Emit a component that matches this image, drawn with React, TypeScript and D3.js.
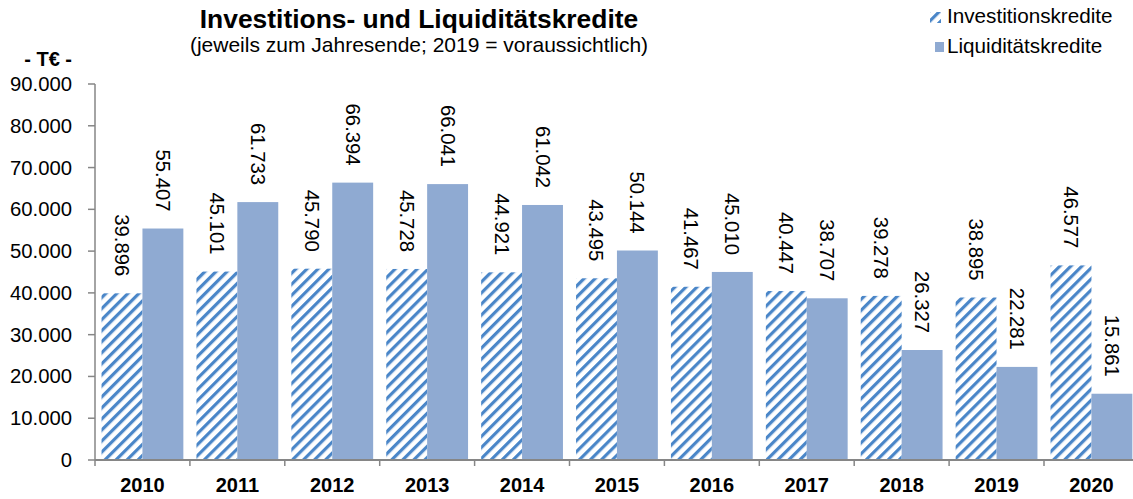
import React, { useEffect, useRef } from "react";
import * as d3 from "d3";

const years = ["2010", "2011", "2012", "2013", "2014", "2015", "2016", "2017", "2018", "2019", "2020"];
const investitionskredite = [39896, 45101, 45790, 45728, 44921, 43495, 41467, 40447, 39278, 38895, 46577];
const liquiditaetskredite = [55407, 61733, 66394, 66041, 61042, 50144, 45010, 38707, 26327, 22281, 15861];
const yTicks = [0, 10000, 20000, 30000, 40000, 50000, 60000, 70000, 80000, 90000];
const seriesNames = ["Investitionskredite", "Liquiditätskredite"];

const W = 1133;
const H = 499;
const FONT = "'Liberation Sans', Arial, sans-serif";
const hatchBlue = "#4a86c8";
const solidBlue = "#8faad2";
const axisGrey = "#868686";

const fmt = (v: number) => d3.format(",")(v).replace(/,/g, ".");

export default function App() {
  const ref = useRef<SVGSVGElement>(null);

  useEffect(() => {
    document.body.style.margin = "0";
    const svg = d3.select(ref.current);
    svg.selectAll("*").remove();

    // stripe pattern for the hatched series
    const defs = svg.append("defs");
    const pat = defs.append("pattern")
      .attr("id", "hatch")
      .attr("patternUnits", "userSpaceOnUse")
      .attr("width", 7.8)
      .attr("height", 7.8)
      .attr("patternTransform", "rotate(45)");
    pat.append("rect").attr("width", 7.8).attr("height", 7.8).attr("fill", "#fff");
    pat.append("rect").attr("width", 3.2).attr("height", 7.8).attr("fill", hatchBlue);

    const x = d3.scaleBand().domain(years).range([95, 95 + 11 * 94.9]).padding(0);
    const xs = d3.scaleBand().domain(["inv", "liq"]).range([0, x.bandwidth()]).paddingInner(0).paddingOuter(0.16);
    const y = d3.scaleLinear().domain([0, 90000]).range([460, 84]);

    // bars
    const g = svg.append("g");
    years.forEach(function (yr, i) {
      const x0 = x(yr) as number;
      g.append("rect")
        .attr("x", x0 + (xs("inv") as number))
        .attr("y", y(investitionskredite[i]))
        .attr("width", xs.bandwidth())
        .attr("height", y(0) - y(investitionskredite[i]))
        .attr("fill", "url(#hatch)");
      g.append("rect")
        .attr("x", x0 + (xs("liq") as number))
        .attr("y", y(liquiditaetskredite[i]))
        .attr("width", xs.bandwidth())
        .attr("height", y(0) - y(liquiditaetskredite[i]))
        .attr("fill", solidBlue);

      [investitionskredite[i], liquiditaetskredite[i]].forEach(function (v, k) {
        const cx = x0 + (xs(k === 0 ? "inv" : "liq") as number) + xs.bandwidth() / 2;
        g.append("text")
          .attr("transform", "translate(" + cx + "," + (y(v) - 17) + ") rotate(90)")
          .attr("text-anchor", "end")
          .attr("dominant-baseline", "central")
          .attr("font-family", FONT)
          .attr("font-size", 20.3)
          .attr("fill", "#000")
          .text(fmt(v));
      });
    });

    // y axis
    const ya = svg.append("g");
    ya.append("line").attr("x1", 95).attr("x2", 95).attr("y1", y(90000)).attr("y2", y(0))
      .attr("stroke", axisGrey).attr("stroke-width", 1.5);
    yTicks.forEach(function (t) {
      ya.append("line").attr("x1", 88).attr("x2", 95).attr("y1", y(t)).attr("y2", y(t))
        .attr("stroke", axisGrey).attr("stroke-width", 1.5);
      ya.append("text")
        .attr("x", 72).attr("y", y(t))
        .attr("text-anchor", "end").attr("dominant-baseline", "central")
        .attr("font-family", FONT).attr("font-size", 20.3)
        .text(fmt(t));
    });

    // x axis
    const xa = svg.append("g");
    xa.append("line").attr("x1", 95).attr("x2", W).attr("y1", y(0)).attr("y2", y(0))
      .attr("stroke", axisGrey).attr("stroke-width", 2);
    years.forEach(function (yr) {
      const x0 = x(yr) as number;
      xa.append("line").attr("x1", x0).attr("x2", x0).attr("y1", y(0)).attr("y2", y(0) + 6)
        .attr("stroke", axisGrey).attr("stroke-width", 1.5);
      xa.append("text")
        .attr("x", x0 + x.bandwidth() / 2).attr("y", 492)
        .attr("text-anchor", "middle")
        .attr("font-family", FONT).attr("font-size", 20).attr("font-weight", "bold")
        .text(yr);
    });

    // titles
    svg.append("text").attr("x", 419).attr("y", 28).attr("text-anchor", "middle")
      .attr("font-family", FONT).attr("font-size", 26.4).attr("font-weight", "bold")
      .text("Investitions- und Liquiditätskredite");
    svg.append("text").attr("x", 419).attr("y", 52).attr("text-anchor", "middle")
      .attr("font-family", FONT).attr("font-size", 21)
      .text("(jeweils zum Jahresende; 2019 = voraussichtlich)");
    svg.append("text").attr("x", 72).attr("y", 66).attr("text-anchor", "end")
      .attr("font-family", FONT).attr("font-size", 20).attr("font-weight", "bold")
      .text("- T€ -");

    // legend
    const lg = svg.append("g");
    lg.append("rect").attr("x", 930).attr("y", 12).attr("width", 11).attr("height", 11).attr("fill", "url(#hatch)");
    lg.append("rect").attr("x", 935).attr("y", 42).attr("width", 9).attr("height", 10).attr("fill", solidBlue);
    seriesNames.forEach(function (s, i) {
      lg.append("text").attr("x", 947).attr("y", 23 + i * 30)
        .attr("font-family", FONT).attr("font-size", 20.7)
        .text(s);
    });
  }, []);

  return <svg ref={ref} width={W} height={H} style={{ display: "block", background: "#fff" }}></svg>;
}
